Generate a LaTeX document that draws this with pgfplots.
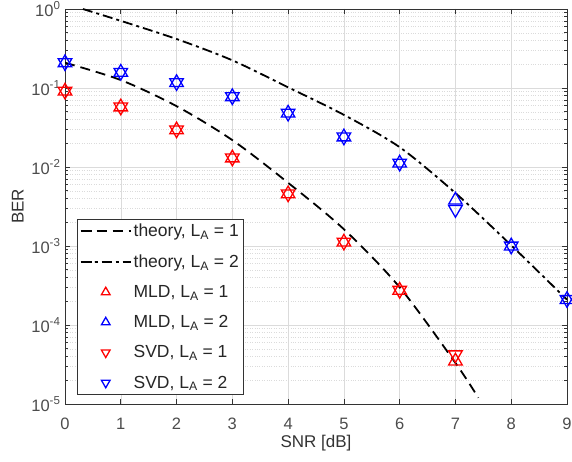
\documentclass[border=0pt]{standalone}
\usepackage{pgfplots}
\pgfplotsset{compat=1.18}
\usepackage{fontspec}
\setmainfont{Liberation Sans}

\definecolor{axgray}{gray}{0.2}

\begin{document}
\begin{tikzpicture}
\begin{axis}[
    scale only axis,
    width=502pt, height=395pt,
    at={(0,0)}, anchor=south west,
    ymode=log,
    xmin=0, xmax=9, ymin=1e-5, ymax=1,
    xtick={0,1,2,3,4,5,6,7,8,9},
    xticklabels={0,1,2,3,4,5,6,7,8,9},
    ytick={1e-5,1e-4,1e-3,1e-2,1e-1,1},
    yticklabels={10\textsuperscript{-5},10\textsuperscript{-4},10\textsuperscript{-3},10\textsuperscript{-2},10\textsuperscript{-1},10\textsuperscript{0}},
    /pgf/number format/assume math mode=true,
    minor x tick num=0,
    xmajorgrids, ymajorgrids, yminorgrids,
    major grid style={black!14, line width=0.5pt},
    minor grid style={black!14, dotted, line width=0.5pt},
    axis line style={axgray, line width=0.7pt},
    every tick/.style={axgray, line width=0.6pt},
    major tick length=5pt, minor tick length=3pt,
    xticklabel style={font=\fontsize{16.5}{19}\selectfont, text=black!70, anchor=center, yshift=-20pt},
    yticklabel style={font=\fontsize{16.5}{19}\selectfont, text=black!70, xshift=-1pt},
    xlabel={SNR [dB]},
    ylabel={BER},
    label style={font=\fontsize{17}{20}\selectfont, text=black!80},
    xlabel style={at={(axis description cs:0.5,-0.098)}, anchor=center},
    ylabel style={at={(axis description cs:-0.094,0.5)}, anchor=center},
    legend image code/.code={
        \draw[mark repeat=2, mark phase=2, #1, mark size=5pt]
            plot coordinates {(0pt,0pt) (25pt,0pt) (50pt,0pt)};
    },
    legend cell align=left,
    legend style={
        at={(0.024,0.023)}, anchor=south west,
        draw=axgray, line width=0.6pt, fill=white,
        font=\fontsize{17.5}{20}\selectfont, text=black!85,
        inner xsep=2.5pt, inner ysep=3pt,
        row sep=12.5pt,
    },
]
    % theory curves
    \addplot[black, line width=1.8pt, dash pattern=on 10pt off 6pt, smooth] coordinates {
        (0,0.209) (1,0.126) (2,0.0589) (3,0.0219) (4,0.00631)
        (5,0.00163) (6,3.0e-4) (7,3.31e-5) (7.41,1.2e-5)
    };
    \addlegendentry{theory, L\textsubscript{A} = 1}
    \addplot[black, line width=1.8pt, dash pattern=on 10pt off 4pt on 3pt off 4pt, smooth] coordinates {
        (0.32,1.0) (1,0.708) (2,0.417) (3,0.224) (4,0.102)
        (5,0.0457) (6,0.0178) (7,0.00468) (8,0.00102) (9,2.09e-4)
    };
    \addlegendentry{theory, L\textsubscript{A} = 2}

    % simulated, MLD
    \addplot[only marks, red, mark=triangle, mark size=7.8pt, line width=1.3pt] coordinates {
        (0,0.0912) (1,0.0575) (2,0.0295) (3,0.0130) (4,0.00457)
        (5,0.00112) (6,2.75e-4) (7,3.5e-5)
    };
    \addlegendentry{MLD, L\textsubscript{A} = 1}
    \addplot[only marks, blue, mark=triangle, mark size=7.8pt, line width=1.3pt] coordinates {
        (0,0.209) (1,0.158) (2,0.117) (3,0.0776) (4,0.048)
        (5,0.024) (6,0.0112) (7,0.0038) (8,0.00100) (9,2.1e-4)
    };
    \addlegendentry{MLD, L\textsubscript{A} = 2}

    % simulated, SVD
    \addplot[only marks, red, mark=triangle, mark options={rotate=180}, mark size=7.8pt, line width=1.3pt] coordinates {
        (0,0.0912) (1,0.0575) (2,0.0295) (3,0.0130) (4,0.00457)
        (5,0.00112) (6,2.75e-4) (7,4.2e-5)
    };
    \addlegendentry{SVD, L\textsubscript{A} = 1}
    \addplot[only marks, blue, mark=triangle, mark options={rotate=180}, mark size=7.8pt, line width=1.3pt] coordinates {
        (0,0.209) (1,0.158) (2,0.117) (3,0.0776) (4,0.048)
        (5,0.024) (6,0.0112) (7,0.0029) (8,0.00100) (9,2.1e-4)
    };
    \addlegendentry{SVD, L\textsubscript{A} = 2}
\end{axis}
\pgfresetboundingbox
\path (-65pt,-58pt) rectangle (507pt,404pt);
\end{tikzpicture}
\end{document}
